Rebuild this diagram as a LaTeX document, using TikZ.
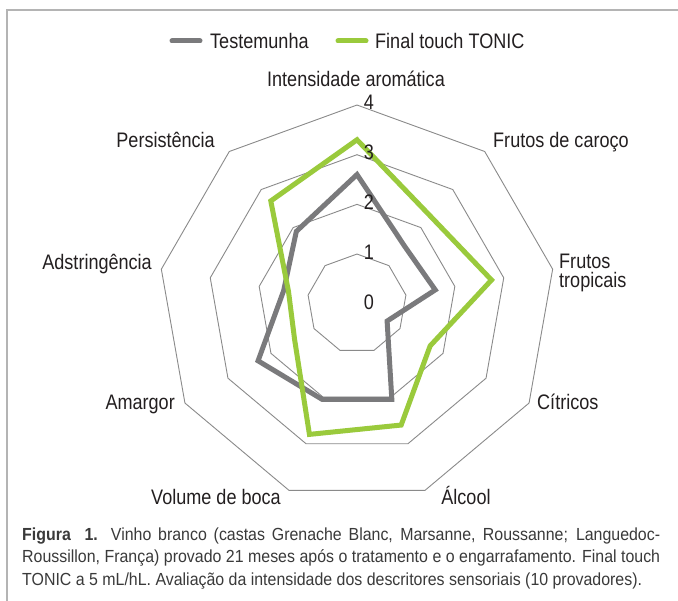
\documentclass[tikz,border=0pt]{standalone}
\usepackage{fontspec}
\setmainfont{Liberation Sans}[FakeStretch=0.86]
\newfontfamily\capfont{Liberation Sans}[FakeStretch=0.91]
\usetikzlibrary{calc}
\definecolor{txt}{HTML}{231F20}
\definecolor{captxt}{HTML}{3A3A3A}
\definecolor{gridc}{HTML}{8A8A8A}
\definecolor{testc}{HTML}{7A7A7C}
\definecolor{tonicc}{HTML}{9ACA3C}
\definecolor{framec}{HTML}{B4B4B4}
\tikzset{
  gridline/.style={draw=gridc, line width=0.9pt, line join=miter},
  testline/.style={draw=testc, line width=5pt, line join=miter},
  tonicline/.style={draw=tonicc, line width=5pt, line join=miter},
  swatch/.style={line width=5pt, line cap=round},
  lab/.style={font=\fontsize{21}{24}\selectfont, text=txt, inner sep=0pt},
  digit/.style={font=\fontsize{21}{24}\selectfont, text=txt, inner sep=0pt, anchor=base},
  capline/.style={font=\capfont\fontsize{17.5}{20}\selectfont, text=captxt, inner sep=0pt, anchor=base west},
}
\begin{document}
\begin{tikzpicture}[x=1pt,y=-1pt]
\useasboundingbox (0,0) rectangle (678,601);
\fill[white] (0,0) rectangle (678,601);
% frame
\coordinate (fb) at (7,601);
\coordinate (fc) at (7,10);
\coordinate (fr) at (678,10);
\draw[framec, line width=1.6pt] (fb) -- (fc) -- (fr);
% centre
\coordinate (C) at (357,303.7);
% grid
\foreach \k in {1,...,4}{
  \foreach \i in {1,...,9}{
    \coordinate (g\k-\i) at ($(C)+({cos(130-40*\i)*\k*49.67},{-sin(130-40*\i)*\k*49.67})$);
  }
  \draw[gridline] (g\k-1) -- (g\k-2) -- (g\k-3) -- (g\k-4) -- (g\k-5) -- (g\k-6) -- (g\k-7) -- (g\k-8) -- (g\k-9) -- cycle;
}
% data
\foreach \v [count=\i] in {2.6,1.5,1.6,0.7,2.05,2.05,2.3,1.5,1.9}{
  \coordinate (t\i) at ($(C)+({cos(130-40*\i)*\v*49.67},{-sin(130-40*\i)*\v*49.67})$);
}
\foreach \v [count=\i] in {3.3,2.3,2.75,1.7,2.6,2.8,1.45,1.4,2.7}{
  \coordinate (f\i) at ($(C)+({cos(130-40*\i)*\v*49.67},{-sin(130-40*\i)*\v*49.67})$);
}
\draw[testline] (t1) -- (t2) -- (t3) -- (t4) -- (t5) -- (t6) -- (t7) -- (t8) -- (t9) -- cycle;
\draw[tonicline] (f1) -- (f2) -- (f3) -- (f4) -- (f5) -- (f6) -- (f7) -- (f8) -- (f9) -- cycle;
% scale digits
\node[digit] (d4) at (369,110) {4};
\node[digit] (d3) at (369,160) {3};
\node[digit] (d2) at (369,210) {2};
\node[digit] (d1) at (369,260) {1};
\node[digit] (d0) at (369,310) {0};
% axis labels
\node[lab, anchor=base] (l1) at (356,86.5) {Intensidade aromática};
\node[lab, anchor=base west] (l2) at (493,148) {Frutos de caroço};
\node[lab, anchor=base west] (l3a) at (559,269) {Frutos};
\node[lab, anchor=base west] (l3b) at (559,288) {tropicais};
\node[lab, anchor=base west] (l4) at (537,410) {Cítricos};
\node[lab, anchor=base] (l5) at (466,505) {Álcool};
\node[lab, anchor=base] (l6) at (216,505) {Volume de boca};
\node[lab, anchor=base east] (l7) at (175,410) {Amargor};
\node[lab, anchor=base east] (l8) at (152,270) {Adstringência};
\node[lab, anchor=base east] (l9) at (215,148) {Persistência};
% legend
\coordinate (s1a) at (172,41);
\coordinate (s1b) at (200,41);
\coordinate (s2a) at (338,41);
\coordinate (s2b) at (366,41);
\draw[swatch, testc] (s1a) -- (s1b);
\draw[swatch, tonicc] (s2a) -- (s2b);
\node[lab, anchor=base west] (leg1) at (210,48.5) {Testemunha};
\node[lab, anchor=base west] (leg2) at (375,48.5) {Final touch TONIC};
% caption
\node[capline] (cap1) at (22,540) {\makebox[638pt][s]{\textbf{Figura\ \ 1.} Vinho branco (castas Grenache Blanc, Marsanne, Roussanne; Languedoc-}};
\node[capline] (cap2) at (22,563) {\makebox[638pt][s]{Roussillon, França) provado 21 meses após o tratamento e o engarrafamento. Final touch}};
\node[capline] (cap3) at (22,586) {TONIC a 5 mL/hL. Avaliação da intensidade dos descritores sensoriais (10 provadores).};
\end{tikzpicture}
\end{document}
